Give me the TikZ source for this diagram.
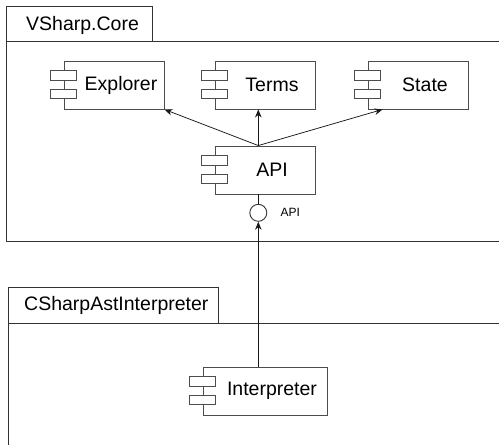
\documentclass[tikz,border=0pt]{standalone}
\usepackage{fontspec}
\setmainfont{Liberation Sans}
\usetikzlibrary{arrows.meta}
\tikzset{
  frame/.style={draw=black!80, line width=0.9pt},
  comp/.style={draw=black!70, line width=0.9pt, fill=white, minimum width=100pt, minimum height=48pt, inner sep=0pt, font=\fontsize{19.5}{23}\selectfont},
  tabtext/.style={anchor=west, inner sep=0pt, font=\fontsize{19.5}{23}\selectfont},
  port/.style={circle, draw=black!80, line width=0.9pt, fill=white, minimum size=17pt, inner sep=0pt},
  small/.style={inner sep=0pt, font=\fontsize{12}{14}\selectfont},
  dep/.style={draw=black!90, line width=0.75pt, -{Stealth[length=8,width=6.5]}},
  lnk/.style={draw=black!90, line width=0.75pt}
}
\newcommand{\compicons}[1]{%
  \draw[black!70, line width=0.9pt, fill=white] ([xshift=-13pt,yshift=14.3pt]#1.west) rectangle ([xshift=13pt,yshift=4.8pt]#1.west);
  \draw[black!70, line width=0.9pt, fill=white] ([xshift=-13pt,yshift=-4.2pt]#1.west) rectangle ([xshift=13pt,yshift=-13.7pt]#1.west);
}
\begin{document}
\begin{tikzpicture}[x=1pt,y=-1pt]
\useasboundingbox (0,0) rectangle (499,445);
\clip (0,0) rectangle (499,445);
% VSharp.Core package
\draw[frame] (6,6) rectangle (152,41.7);
\draw[frame] (6,41.7) rectangle (520,241);
\node[tabtext] (coretitle) at (26,25) {VSharp.Core};
% CSharpAstInterpreter package
\draw[frame] (8,287) rectangle (218,323);
\draw[frame] (8,323) rectangle (520,470);
\node[tabtext] (interptitle) at (24,305.5) {CSharpAstInterpreter};
% components
\node[comp] (explorer) at (114,85) {\hspace*{14pt}Explorer};
\node[comp] (terms) at (265,85) {\hspace*{14pt}Terms};
\node[comp] (state) at (418,85) {\hspace*{14pt}State};
\node[comp] (api) at (265,170) {\hspace*{14pt}API};
\node[comp, minimum width=124pt] (interp) at (265,391) {\hspace*{14pt}Interpreter};
\compicons{explorer}
\compicons{terms}
\compicons{state}
\compicons{api}
\compicons{interp}
% interface
\node[port] (iface) at (258.3,212.8) {};
\node[small, anchor=west] (ifacelabel) at (280.5,212.5) {API};
% connectors
\draw[dep] ([xshift=-6.7pt]api.north) -- (explorer.south east);
\draw[dep] ([xshift=-6.7pt]api.north) -- ([xshift=-6.7pt]terms.south);
\draw[dep] ([xshift=-6.7pt]api.north) -- ([xshift=15pt]state.south west);
\draw[lnk] ([xshift=-6.7pt]api.south) -- (iface.north);
\draw[dep] ([xshift=-6.7pt]interp.north) -- (iface.south);
\end{tikzpicture}
\end{document}
